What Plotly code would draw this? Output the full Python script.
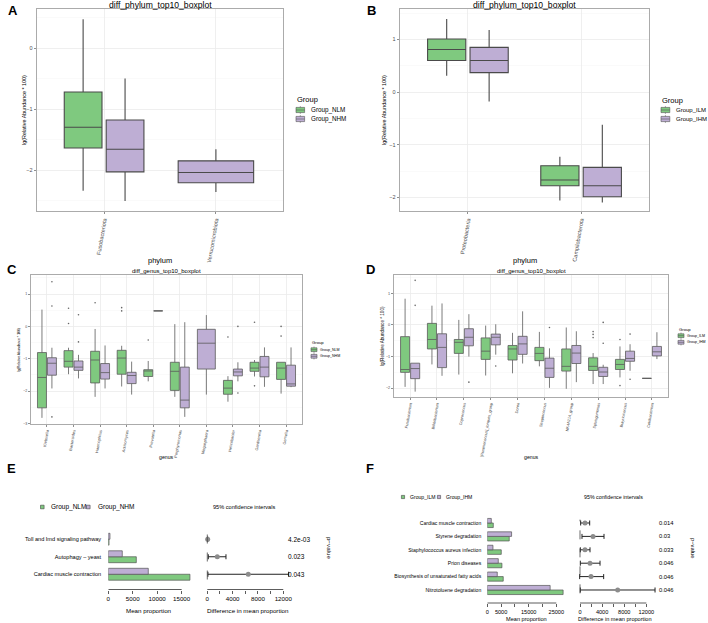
import plotly.graph_objects as go

# ---------------- DATA ----------------
A_categories = ["Fusobacteriota", "Verrucomicrobiota"]
A_NLM_lo = [-2.34, None]
A_NLM_q1 = [-1.64, None]
A_NLM_med = [-1.30, None]
A_NLM_q3 = [-0.72, None]
A_NLM_hi = [0.47, None]
A_NHM_lo = [-2.51, -2.36]
A_NHM_q1 = [-2.03, -2.21]
A_NHM_med = [-1.66, -2.04]
A_NHM_q3 = [-1.18, -1.85]
A_NHM_hi = [-0.50, -1.66]

B_categories = ["Proteobacteria", "Campilobacterota"]
B_ILM_lo = [0.31, -2.06]
B_ILM_q1 = [0.60, -1.78]
B_ILM_med = [0.81, -1.67]
B_ILM_q3 = [1.01, -1.40]
B_ILM_hi = [1.39, -1.23]
B_IHM_lo = [-0.18, -2.10]
B_IHM_q1 = [0.37, -1.99]
B_IHM_med = [0.60, -1.78]
B_IHM_q3 = [0.85, -1.43]
B_IHM_hi = [1.18, -0.62]

C_categories = ["Klebsiella", "Bacteroides", "Haemophilus", "Actinomyces", "Prevotella",
                "Porphyromonas", "Megasphaera", "Helicobacter", "Gardnerella", "Gemella"]
C_NLM_hi = [0.52, -0.66, -0.08, -0.60, -1.07, 0.07, None, -1.54, -1.04, -1.11]
C_NLM_q3 = [-0.81, -0.75, -0.77, -0.74, -1.34, -1.11, None, -1.67, -1.11, -1.11]
C_NLM_med = [-1.58, -1.08, -1.04, -0.98, -1.38, -1.39, None, -1.91, -1.29, -1.29]
C_NLM_q1 = [-2.52, -1.26, -1.75, -1.48, -1.55, -1.98, None, -2.10, -1.39, -1.64]
C_NLM_lo = [-2.83, -1.48, -2.18, -1.86, -1.70, -2.18, None, -2.33, -1.55, -2.08]
C_NHM_hi = [-0.66, -0.88, -0.59, -1.09, 0.48, 0.13, 0.35, -1.11, -0.65, -0.65]
C_NHM_q3 = [-0.97, -1.07, -1.15, -1.42, 0.48, -1.26, -0.09, -1.32, -0.93, -1.20]
C_NHM_med = [-1.14, -1.26, -1.43, -1.52, 0.48, -2.28, -0.52, -1.41, -1.26, -1.78]
C_NHM_q1 = [-1.51, -1.36, -1.63, -1.77, 0.48, -2.52, -1.32, -1.53, -1.56, -1.85]
C_NHM_lo = [-1.92, -1.61, -1.92, -2.11, 0.48, -2.80, -2.11, -1.70, -1.87, -1.88]
C_NLM_out_cat = ["Bacteroides", "Bacteroides", "Haemophilus", "Actinomyces", "Actinomyces",
                 "Prevotella", "Helicobacter", "Gardnerella", "Gardnerella", "Gemella", "Gemella"]
C_NLM_out_val = [0.56, 0.09, 0.73, 0.58, 0.48, -0.42, -0.33, 0.13, -1.84, 0.0, -0.30]
C_NHM_out_cat = ["Klebsiella", "Klebsiella", "Klebsiella", "Bacteroides", "Bacteroides",
                 "Helicobacter", "Helicobacter"]
C_NHM_out_val = [1.38, 0.63, -2.80, 0.36, -0.48, 0.0, -2.06]

D_categories = ["Fusobacterium", "Bifidobacterium", "Coprococcus", "[Ruminococcus]_torques_group",
                "Dorea", "Streptococcus", "NK4A214_group", "Sphingomonas", "Butyricicoccus",
                "Cetobacterium"]
D_ILM_hi = [0.83, 0.61, 0.16, -0.02, -0.25, -0.22, -0.08, -0.89, -0.68, -1.69]
D_ILM_q3 = [-0.37, 0.05, -0.46, -0.41, -0.65, -0.71, -0.76, -1.04, -1.09, -1.69]
D_ILM_med = [-1.41, -0.46, -0.55, -0.83, -0.76, -0.90, -1.31, -1.31, -1.25, -1.69]
D_ILM_q1 = [-1.50, -0.76, -0.90, -1.09, -1.11, -1.13, -1.46, -1.44, -1.41, -1.69]
D_ILM_lo = [-1.96, -1.25, -1.57, -1.60, -1.53, -1.31, -2.02, -1.87, -1.66, -1.69]
D_IHM_hi = [-1.21, 0.68, 0.34, 0.02, 0.43, -0.74, -0.20, -1.26, -0.61, -0.23]
D_IHM_q3 = [-1.21, -0.28, -0.12, -0.29, -0.36, -1.05, -0.65, -1.34, -0.83, -0.68]
D_IHM_med = [-1.38, -0.71, -0.39, -0.39, -0.60, -1.37, -0.89, -1.49, -1.06, -0.85]
D_IHM_q1 = [-1.70, -1.35, -0.66, -0.63, -0.93, -1.66, -1.22, -1.63, -1.15, -0.98]
D_IHM_lo = [-2.11, -1.61, -1.00, -0.94, -1.22, -1.99, -1.81, -1.87, -1.45, -1.08]
D_ILM_out_cat = ["Sphingomonas", "Sphingomonas", "Sphingomonas", "Butyricicoccus", "Butyricicoccus"]
D_ILM_out_val = [-0.21, -0.30, -0.40, -0.46, -1.92]
D_IHM_out_cat = ["Fusobacterium", "Fusobacterium", "Coprococcus", "[Ruminococcus]_torques_group",
                 "Streptococcus", "Sphingomonas", "Sphingomonas", "Butyricicoccus", "Butyricicoccus"]
D_IHM_out_val = [1.41, 0.62, -1.81, -1.30, -0.08, 0.08, -0.58, -0.29, -1.72]

E_pathways = ["Toll and Imd signaling pathway", "Autophagy \u2013 yeast", "Cardiac muscle contraction"]
E_NLM_mean = [150, 5730, 16700]
E_NHM_mean = [340, 2860, 8180]
E_diff = [60, 1580, 6470]
E_ci_lo = [20, 160, 100]
E_ci_hi = [100, 2950, 12840]
E_pvalue = ["4.2e-03", "0.023", "0.043"]

F_pathways = ["Cardiac muscle contraction", "Styrene degradation", "Staphylococcus aureus infection",
              "Prion diseases", "Biosynthesis of unsaturated fatty acids", "Nitrotoluene degradation"]
F_ILM_mean = [2170, 7950, 5060, 5300, 5780, 27470]
F_IHM_mean = [1450, 8800, 2050, 3980, 3610, 22770]
F_diff = [905, 2350, 905, 1810, 1990, 6820]
F_ci_lo = [120, 360, 60, 60, -60, 60]
F_ci_hi = [1750, 4340, 1810, 3620, 4280, 13570]
F_pvalue = ["0.014", "0.03", "0.033", "0.046", "0.046", "0.046"]

E_bar_ticks = [0, 5000, 10000, 15000]
F_bar_ticks = [0, 5000, 10000, 15000, 20000, 25000]
F_bar_ticktext = ["0", "5000", "", "15000", "", "25000"]
CI_ticks = [0, 2000, 4000, 6000, 8000, 10000, 12000]
CI_ticktext = ["0", "", "4000", "", "8000", "", "12000"]

# ---------------- STYLE / HELPERS ----------------
W, H = 708, 623
FONT = "Liberation Sans, Arial, Helvetica, sans-serif"
GREEN = "#7FC97F"
PURPLE = "#BEAED4"
BLACK = "black"


def fx(x):
    return x / W


def fy(y):
    return 1 - y / H


def xdom(a, b):
    return [a / W, b / W]


def ydom(top, bottom):
    return [1 - bottom / H, 1 - top / H]


fig = go.Figure()
annotations = []
shapes = []


def text(x, y, s, size, xanchor="center", yanchor="middle", angle=0, bold=False, color=BLACK):
    annotations.append(dict(
        x=fx(x), y=fy(y), xref="paper", yref="paper", text=("<b>%s</b>" % s) if bold else s,
        showarrow=False, xanchor=xanchor, yanchor=yanchor, textangle=angle, borderpad=0,
        font=dict(family=FONT, size=size, color=color)))


def add_box_panel(ax, ay, cats, g1, g2, lc, lw, out1, out2, ms):
    n = len(cats)
    for gi, (g, col, sign) in enumerate([(g1, GREEN, -1), (g2, PURPLE, 1)]):
        lo, q1, med, q3, hi = g
        other = g2 if gi == 0 else g1
        pair = dict(x=[], lo=[], q1=[], med=[], q3=[], hi=[])
        solo = dict(x=[], lo=[], q1=[], med=[], q3=[], hi=[])
        for i in range(n):
            if med[i] is None:
                continue
            if other[2][i] is not None:
                t = pair
                t["x"].append(i + 1 + sign * 0.1875)
            else:
                t = solo
                t["x"].append(i + 1)
            t["lo"].append(lo[i]); t["q1"].append(q1[i]); t["med"].append(med[i])
            t["q3"].append(q3[i]); t["hi"].append(hi[i])
        for t, w in [(pair, 0.3375), (solo, 0.675)]:
            if t["x"]:
                fig.add_trace(go.Box(
                    x=t["x"], q1=t["q1"], median=t["med"], q3=t["q3"],
                    lowerfence=t["lo"], upperfence=t["hi"], width=w,
                    fillcolor=col, line=dict(color=lc, width=lw), whiskerwidth=0,
                    boxpoints=False, xaxis=ax, yaxis=ay, showlegend=False, hoverinfo="skip"))
        oc, ov = out1 if gi == 0 else out2
        if oc:
            fig.add_trace(go.Scatter(
                x=[cats.index(c) + 1 + sign * 0.1875 for c in oc], y=ov, mode="markers",
                marker=dict(size=ms, color="#666666", line=dict(width=0)), xaxis=ax, yaxis=ay,
                showlegend=False, hoverinfo="skip"))


layout_axes = {}


def box_axes(xname, yname, xanchor, yanchor, xd, yd, cats, yrange, xfont, yfont, lw_border):
    n = len(cats)
    layout_axes[xname] = dict(
        domain=xd, anchor=yanchor, range=[0.4, n + 0.6], tickmode="array", automargin=False,
        tickvals=list(range(1, n + 1)), ticktext=cats, tickangle=-80,
        tickfont=dict(family=FONT, size=xfont, color="#4d4d4d"),
        showgrid=True, gridcolor="#ebebeb", gridwidth=0.8, zeroline=False,
        showline=True, mirror=True, linecolor="#ababab", linewidth=lw_border,
        ticks="outside", ticklen=2, tickwidth=0.6, tickcolor="#444444")
    layout_axes[yname] = dict(
        domain=yd, anchor=xanchor, range=yrange, tickmode="linear", tick0=0, dtick=1,
        automargin=False,
        tickfont=dict(family=FONT, size=yfont, color="#4d4d4d"),
        showgrid=True, gridcolor="#ebebeb", gridwidth=0.8, zeroline=False,
        minor=dict(dtick=0.5, tick0=0, showgrid=True, gridcolor="#f5f5f5", gridwidth=0.5),
        showline=True, mirror=True, linecolor="#ababab", linewidth=lw_border,
        ticks="outside", ticklen=2, tickwidth=0.6, tickcolor="#444444")


def box_legend(xk, ytitle, ys, labels, kw, kh, ft, fl, xt):
    text(xk, ytitle, "Group", ft, xanchor="left")
    for y, lab, col in zip(ys, labels, [GREEN, PURPLE]):
        shapes.append(dict(type="rect", xref="paper", yref="paper", x0=fx(xk), x1=fx(xk + kw),
                           y0=fy(y + kh / 2), y1=fy(y - kh / 2), fillcolor=col,
                           line=dict(color="#555555", width=0.6)))
        shapes.append(dict(type="line", xref="paper", yref="paper", x0=fx(xk), x1=fx(xk + kw),
                           y0=fy(y), y1=fy(y), line=dict(color="#555555", width=0.6)))
        for a, b in [(y - kh / 2 - 1.2, y - kh / 2), (y + kh / 2, y + kh / 2 + 1.2)]:
            shapes.append(dict(type="line", xref="paper", yref="paper", x0=fx(xk + kw / 2),
                               x1=fx(xk + kw / 2), y0=fy(a), y1=fy(b),
                               line=dict(color="#555555", width=0.6)))
        text(xt, y, lab, fl, xanchor="left")


# ---------------- PANEL A ----------------
add_box_panel("x", "y", A_categories,
              (A_NLM_lo, A_NLM_q1, A_NLM_med, A_NLM_q3, A_NLM_hi),
              (A_NHM_lo, A_NHM_q1, A_NHM_med, A_NHM_q3, A_NHM_hi),
              "#4a4a4a", 1.1, ([], []), ([], []), 2)
box_axes("xaxis", "yaxis", "x", "y", xdom(37, 283), ydom(9, 211), A_categories,
         [-2.672, 0.64], 5.6, 5.5, 1.3)
text(160, 4.5, "diff_phylum_top10_boxplot", 8.6)
text(160, 260, "phylum", 7.5)
text(24, 110, "lg(Relative Abundance * 100)", 5.4, angle=-90)
text(7, 11, "A", 13, xanchor="left", bold=True)
box_legend(296, 99, [110, 119], ["Group_NLM", "Group_NHM"], 8.6, 5.2, 7.5, 6.3, 310)

# ---------------- PANEL B ----------------
add_box_panel("x2", "y2", B_categories,
              (B_ILM_lo, B_ILM_q1, B_ILM_med, B_ILM_q3, B_ILM_hi),
              (B_IHM_lo, B_IHM_q1, B_IHM_med, B_IHM_q3, B_IHM_hi),
              "#4a4a4a", 1.1, ([], []), ([], []), 2)
box_axes("xaxis2", "yaxis2", "x2", "y2", xdom(400, 649), ydom(9, 211), B_categories,
         [-2.26, 1.58], 5.6, 5.5, 1.3)
text(524.5, 4.5, "diff_phylum_top10_boxplot", 8.6)
text(524.5, 260, "phylum", 7.5)
text(384, 110, "lg(Relative Abundance * 100)", 5.4, angle=-90)
text(366, 11, "B", 13, xanchor="left", bold=True)
box_legend(661, 100, [110, 119], ["Group_ILM", "Group_IHM"], 8.8, 5.2, 7.5, 6.0, 675)

# ---------------- PANEL C ----------------
add_box_panel("x3", "y3", C_categories,
              (C_NLM_lo, C_NLM_q1, C_NLM_med, C_NLM_q3, C_NLM_hi),
              (C_NHM_lo, C_NHM_q1, C_NHM_med, C_NHM_q3, C_NHM_hi),
              "#5a5a5a", 0.8, (C_NLM_out_cat, C_NLM_out_val), (C_NHM_out_cat, C_NHM_out_val), 1.6)
box_axes("xaxis3", "yaxis3", "x3", "y3", xdom(31, 302), ydom(275, 424), C_categories,
         [-3.02, 1.59], 4.0, 3.6, 1.0)
text(166.5, 271, "diff_genus_top10_boxplot", 6)
text(166, 457, "genus", 5.2)
text(19, 350, "lg(Relative Abundance * 100)", 3.4, angle=-90)
text(6, 269, "C", 13, xanchor="left", bold=True)
box_legend(311, 342, [349.7, 356.3], ["Group_NLM", "Group_NHM"], 6, 3.8, 4.2, 3.6, 318.5)

# ---------------- PANEL D ----------------
add_box_panel("x4", "y4", D_categories,
              (D_ILM_lo, D_ILM_q1, D_ILM_med, D_ILM_q3, D_ILM_hi),
              (D_IHM_lo, D_IHM_q1, D_IHM_med, D_IHM_q3, D_IHM_hi),
              "#5a5a5a", 0.8, (D_ILM_out_cat, D_ILM_out_val), (D_IHM_out_cat, D_IHM_out_val), 1.6)
box_axes("xaxis4", "yaxis4", "x4", "y4", xdom(394, 668), ydom(275, 397), D_categories,
         [-2.28, 1.58], 3.9, 3.8, 1.0)
text(531, 271, "diff_genus_top10_boxplot", 6)
text(531, 457, "genus", 5.2)
text(382, 336, "lg(Relative Abundance * 100)", 4.6, angle=-90)
text(365, 269, "D", 13, xanchor="left", bold=True)
box_legend(678, 329, [335.7, 342.3], ["Group_ILM", "Group_IHM"], 6, 3.8, 4.2, 3.6, 686)

# ---------------- PANEL E ----------------
fig.add_trace(go.Bar(y=E_pathways, x=E_NLM_mean, orientation="h", marker=dict(
    color=GREEN, line=dict(color="#555555", width=0.7)), xaxis="x5", yaxis="y5",
    showlegend=False, hoverinfo="skip"))
fig.add_trace(go.Bar(y=E_pathways, x=E_NHM_mean, orientation="h", marker=dict(
    color=PURPLE, line=dict(color="#555555", width=0.7)), xaxis="x5", yaxis="y5",
    showlegend=False, hoverinfo="skip"))
fig.add_trace(go.Scatter(
    y=E_pathways, x=E_diff, mode="markers", marker=dict(size=5, color="#8c8c8c"),
    error_x=dict(type="data", symmetric=False,
                 array=[h - d for h, d in zip(E_ci_hi, E_diff)],
                 arrayminus=[d - l for d, l in zip(E_diff, E_ci_lo)],
                 color="#222222", thickness=1, width=2.5),
    xaxis="x6", yaxis="y5", showlegend=False, hoverinfo="skip"))

E_top, E_bot = 530.5, 583
layout_axes["yaxis5"] = dict(
    domain=ydom(E_top, E_bot), anchor="x5", type="category", categoryorder="array",
    categoryarray=E_pathways[::-1], range=[-0.5, len(E_pathways) - 0.5], automargin=False,
    tickfont=dict(family=FONT, size=5.6, color=BLACK), showgrid=False, zeroline=False,
    showline=False, ticks="outside", ticklen=5, tickcolor="rgba(0,0,0,0)")
layout_axes["xaxis5"] = dict(
    domain=xdom(108.3, 196.3), anchor="free", position=fy(589.5), range=[0, 18000],
    tickmode="array", tickvals=E_bar_ticks, ticktext=[str(v) for v in E_bar_ticks],
    automargin=False,
    tickfont=dict(family=FONT, size=6.2, color=BLACK), showgrid=False, zeroline=False,
    showline=False, ticks="outside", ticklen=3.5, tickwidth=0.8, tickcolor="#333333")
layout_axes["xaxis6"] = dict(
    domain=xdom(200, 295), anchor="free", position=fy(589.5),
    range=[-(7.3 / 6.33) * 1000, (87.7 / 6.33) * 1000], automargin=False,
    tickmode="array", tickvals=CI_ticks, ticktext=CI_ticktext,
    tickfont=dict(family=FONT, size=6.2, color=BLACK), showgrid=False, zeroline=False,
    showline=False, ticks="outside", ticklen=3.5, tickwidth=0.8, tickcolor="#333333")
shapes.append(dict(type="line", xref="x5", yref="paper", x0=0, x1=E_bar_ticks[-1],
                   y0=fy(589.5), y1=fy(589.5), line=dict(color="#333333", width=0.8)))
shapes.append(dict(type="line", xref="x6", yref="paper", x0=0, x1=CI_ticks[-1],
                   y0=fy(589.5), y1=fy(589.5), line=dict(color="#333333", width=0.8)))
shapes.append(dict(type="line", xref="x6", yref="y5", x0=0, x1=0, y0=-0.3,
                   y1=len(E_pathways) - 0.7, line=dict(color="#444444", width=0.8, dash="dash")))
for i, p in enumerate(E_pvalue):
    annotations.append(dict(x=fx(287), y=E_pathways[i], xref="paper", yref="y5", text=p,
                            showarrow=False, xanchor="left", borderpad=0,
                            font=dict(family=FONT, size=6.5, color=BLACK)))
text(149, 610, "Mean proportion", 6.2)
text(247.5, 610, "Difference in mean proportion", 6.2)
text(244, 507, "95% confidence intervals", 5.6)
text(330, 548, "p\u2212value", 6.2, angle=90)
text(6, 469, "E", 13, xanchor="left", bold=True)
for xs, xt, lab, col in [(42.3, 50, "Group_NLM", GREEN), (88.3, 96.5, "Group_NHM", PURPLE)]:
    shapes.append(dict(type="rect", xref="paper", yref="paper", x0=fx(xs - 1.8), x1=fx(xs + 1.8),
                       y0=fy(507 + 1.8), y1=fy(507 - 1.8), fillcolor=col,
                       line=dict(color="#444444", width=0.6)))
    text(xt, 507, lab, 6.5, xanchor="left")

# ---------------- PANEL F ----------------
fig.add_trace(go.Bar(y=F_pathways, x=F_ILM_mean, orientation="h", marker=dict(
    color=GREEN, line=dict(color="#555555", width=0.7)), xaxis="x7", yaxis="y7",
    showlegend=False, hoverinfo="skip"))
fig.add_trace(go.Bar(y=F_pathways, x=F_IHM_mean, orientation="h", marker=dict(
    color=PURPLE, line=dict(color="#555555", width=0.7)), xaxis="x7", yaxis="y7",
    showlegend=False, hoverinfo="skip"))
fig.add_trace(go.Scatter(
    y=F_pathways, x=F_diff, mode="markers", marker=dict(size=5, color="#8c8c8c"),
    error_x=dict(type="data", symmetric=False,
                 array=[h - d for h, d in zip(F_ci_hi, F_diff)],
                 arrayminus=[d - l for d, l in zip(F_diff, F_ci_lo)],
                 color="#222222", thickness=1, width=2.5),
    xaxis="x8", yaxis="y7", showlegend=False, hoverinfo="skip"))

F_top, F_bot = 516.3, 596.7
layout_axes["yaxis7"] = dict(
    domain=ydom(F_top, F_bot), anchor="x7", type="category", categoryorder="array",
    categoryarray=F_pathways[::-1], range=[-0.5, len(F_pathways) - 0.5], automargin=False,
    tickfont=dict(family=FONT, size=5.1, color=BLACK), showgrid=False, zeroline=False,
    showline=False, ticks="outside", ticklen=4, tickcolor="rgba(0,0,0,0)")
layout_axes["xaxis7"] = dict(
    domain=xdom(487.3, 570.1), anchor="free", position=fy(603), range=[0, 30000],
    tickmode="array", tickvals=F_bar_ticks, ticktext=F_bar_ticktext, automargin=False,
    tickfont=dict(family=FONT, size=5.6, color=BLACK), showgrid=False, zeroline=False,
    showline=False, ticks="outside", ticklen=3, tickwidth=0.8, tickcolor="#333333")
layout_axes["xaxis8"] = dict(
    domain=xdom(576, 660), anchor="free", position=fy(603),
    range=[-(4 / 5.53) * 1000, (80 / 5.53) * 1000], automargin=False,
    tickmode="array", tickvals=CI_ticks, ticktext=CI_ticktext,
    tickfont=dict(family=FONT, size=5.6, color=BLACK), showgrid=False, zeroline=False,
    showline=False, ticks="outside", ticklen=3, tickwidth=0.8, tickcolor="#333333")
shapes.append(dict(type="line", xref="x7", yref="paper", x0=0, x1=F_bar_ticks[-1],
                   y0=fy(603), y1=fy(603), line=dict(color="#333333", width=0.8)))
shapes.append(dict(type="line", xref="x8", yref="paper", x0=0, x1=CI_ticks[-1],
                   y0=fy(603), y1=fy(603), line=dict(color="#333333", width=0.8)))
shapes.append(dict(type="line", xref="x8", yref="y7", x0=0, x1=0, y0=-0.25,
                   y1=len(F_pathways) - 0.75, line=dict(color="#444444", width=0.8, dash="dash")))
for i, p in enumerate(F_pvalue):
    annotations.append(dict(x=fx(658), y=F_pathways[i], xref="paper", yref="y7", text=p,
                            showarrow=False, xanchor="left", borderpad=0,
                            font=dict(family=FONT, size=5.8, color=BLACK)))
text(526, 619, "Mean proportion", 5.6)
text(614.5, 619, "Difference in mean proportion", 5.6)
text(613, 497, "95% confidence intervals", 5.3)
text(693, 548, "p\u2212value", 5.8, angle=90)
text(365, 469, "F", 13, xanchor="left", bold=True)
for xs, xt, lab, col in [(403, 408.5, "Group_ILM", GREEN), (439, 444.5, "Group_IHM", PURPLE)]:
    shapes.append(dict(type="rect", xref="paper", yref="paper", x0=fx(xs - 1.6), x1=fx(xs + 1.6),
                       y0=fy(497 + 1.6), y1=fy(497 - 1.6), fillcolor=col,
                       line=dict(color="#444444", width=0.6)))
    text(xt, 497, lab, 5.1, xanchor="left")

# ---------------- LAYOUT ----------------
fig.update_layout(
    template="none",
    width=W, height=H, margin=dict(l=0, r=0, t=0, b=0, pad=0, autoexpand=False),
    paper_bgcolor="white", plot_bgcolor="white", showlegend=False,
    barmode="group", bargap=0.32, bargroupgap=0.0, hovermode=False,
    font=dict(family=FONT, color=BLACK),
    annotations=annotations, shapes=shapes, **layout_axes)

fig.write_html("out.html", config={"displayModeBar": False, "staticPlot": True},
               post_script="document.body.style.margin='0px';document.body.style.padding='0px';")
